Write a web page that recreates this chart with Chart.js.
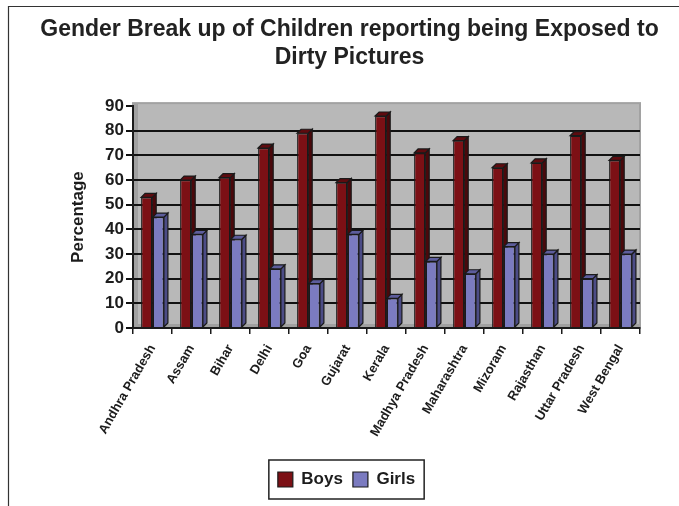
<!DOCTYPE html>
<html>
<head>
<meta charset="utf-8">
<script src="https://cdn.jsdelivr.net/npm/chart.js@4/dist/chart.umd.min.js"></script>
<style>
  body { margin: 0; background: #fff; }
  canvas { display: block; }
</style>
</head>
<body>
<canvas id="genderChart" width="679" height="506"></canvas>
<script>
const states = ['Andhra Pradesh', 'Assam', 'Bihar', 'Delhi', 'Goa', 'Gujarat', 'Kerala',
    'Madhya Pradesh', 'Maharashtra', 'Mizoram', 'Rajasthan', 'Uttar Pradesh', 'West Bengal'];
const boys = [53, 60, 61, 73, 79, 59, 86, 71, 76, 65, 67, 78, 68];
const girls = [45, 38, 36, 24, 18, 38, 12, 27, 22, 33, 30, 20, 30];
const yTicks = [0, 10, 20, 30, 40, 50, 60, 70, 80, 90];

const DEPTH = 4;
const sideColors = ['#4a080b', '#4c4c86'];
const topColors = ['#5e0b0f', '#5d5d9c'];

Chart.defaults.font.family = "'Liberation Sans', Arial, sans-serif";
Chart.defaults.font.weight = 'bold';
Chart.defaults.color = '#1c1c1c';

// gray walls behind the bars, plus the outer frame lines
const backdrop = {
    id: 'backdrop',
    afterLayout(chart) {
        // legend sits slightly left of the title's centre in the original
        chart.legend.left -= 3;
        chart.legend.right -= 3;
    },
    beforeDraw(chart) {
        const { ctx, chartArea: a } = chart;
        ctx.save();
        ctx.fillStyle = '#b8b8b8';
        ctx.fillRect(a.left, a.top - 3, a.right - a.left, a.bottom - a.top + 3);
        ctx.fillStyle = '#a0a0a0';
        ctx.fillRect(a.left, a.top - 3, 5, a.bottom - a.top + 3);
        ctx.fillRect(a.left, a.bottom - 4, a.right - a.left, 4);
        ctx.strokeStyle = '#a2a2a2';
        ctx.lineWidth = 2;
        ctx.strokeRect(a.left, a.top - 3, a.right - a.left, a.bottom - a.top + 3);
        ctx.strokeStyle = '#333';
        ctx.lineWidth = 1.2;
        ctx.beginPath();
        ctx.moveTo(8.5, 506);
        ctx.lineTo(8.5, 6.5);
        ctx.lineTo(679, 6.5);
        ctx.stroke();
        ctx.restore();
    }
};

// fake 3d: side and top faces drawn behind each bar's front face
const depthFaces = {
    id: 'depthFaces',
    beforeDatasetsDraw(chart) {
        const ctx = chart.ctx;
        ctx.save();
        ctx.strokeStyle = '#1a1a1a';
        ctx.lineWidth = 1.2;
        chart.data.datasets.forEach((ds, i) => {
            chart.getDatasetMeta(i).data.forEach(bar => {
                const l = bar.x - bar.width / 2, r = bar.x + bar.width / 2;
                const t = bar.y, b = bar.base;
                ctx.fillStyle = sideColors[i];
                ctx.beginPath();
                ctx.moveTo(r, t);
                ctx.lineTo(r + DEPTH, t - DEPTH);
                ctx.lineTo(r + DEPTH, b - DEPTH);
                ctx.lineTo(r, b);
                ctx.closePath();
                ctx.fill();
                ctx.stroke();
                ctx.fillStyle = topColors[i];
                ctx.beginPath();
                ctx.moveTo(l, t);
                ctx.lineTo(l + DEPTH, t - DEPTH);
                ctx.lineTo(r + DEPTH, t - DEPTH);
                ctx.lineTo(r, t);
                ctx.closePath();
                ctx.fill();
                ctx.stroke();
            });
        });
        ctx.restore();
    }
};

// box around the legend items
const legendBox = {
    id: 'legendBox',
    afterDraw(chart) {
        const boxes = chart.legend.legendHitBoxes;
        if (!boxes || !boxes.length) return;
        const left = Math.min(...boxes.map(b => b.left)) - 9;
        const right = Math.max(...boxes.map(b => b.left + b.width)) + 9;
        const top = Math.min(...boxes.map(b => b.top)) - 11;
        const bottom = Math.max(...boxes.map(b => b.top + b.height)) + 11;
        const ctx = chart.ctx;
        ctx.save();
        ctx.strokeStyle = '#222';
        ctx.lineWidth = 1.5;
        ctx.strokeRect(left, top, right - left, bottom - top);
        ctx.restore();
    }
};

const ctx = document.getElementById('genderChart').getContext('2d');

const genderChart = new Chart(ctx, {
    type: 'bar',
    data: {
        labels: states,
        datasets: [{
            label: 'Boys',
            data: boys,
            backgroundColor: '#7c1015',
            borderColor: '#1a1a1a',
            borderWidth: 1.2,
            categoryPercentage: 0.6,
            barPercentage: 0.95,
        }, {
            label: 'Girls',
            data: girls,
            backgroundColor: '#7b7bc0',
            borderColor: '#1a1a1a',
            borderWidth: 1.2,
            categoryPercentage: 0.6,
            barPercentage: 0.95,
        }],
    },
    options: {
        responsive: false,
        animation: false,
        devicePixelRatio: 1,
        layout: {
            padding: { left: 20, right: 0, bottom: 8 },
        },
        plugins: {
            title: {
                display: true,
                text: ['Gender Break up of Children reporting being Exposed to', 'Dirty Pictures'],
                font: { size: 23, weight: 'bold', lineHeight: 1.22 },
                color: '#222',
                padding: { top: 16, bottom: 34 },
            },
            legend: {
                position: 'bottom',
                labels: {
                    boxWidth: 15,
                    boxHeight: 15,
                    padding: 10,
                    color: '#1c1c1c',
                    font: { size: 17, weight: 'bold' },
                },
            },
            tooltip: { enabled: false },
        },
        scales: {
            x: {
                afterFit: s => { s.height = 133; },
                grid: {
                    drawOnChartArea: false,
                    color: '#1a1a1a',
                    lineWidth: 1.5,
                    tickLength: 6,
                },
                border: { color: '#1a1a1a', width: 2 },
                ticks: {
                    maxRotation: 60,
                    minRotation: 60,
                    padding: 8,
                    color: '#1c1c1c',
                    font: { size: 13, weight: 'bold' },
                },
            },
            y: {
                min: 0,
                max: 90,
                afterBuildTicks: s => { s.ticks = yTicks.map(v => ({ value: v })); },
                afterFit: s => { s.width = 113; },
                grid: {
                    color: c => (c.tick && c.tick.value === 90 ? 'rgba(0,0,0,0)' : '#111'),
                    tickColor: '#111',
                    lineWidth: 2,
                    tickLength: 7,
                },
                border: { color: '#1a1a1a', width: 2 },
                ticks: {
                    padding: 2,
                    color: '#1c1c1c',
                    font: { size: 17, weight: 'bold' },
                },
                title: {
                    display: true,
                    text: 'Percentage',
                    color: '#1c1c1c',
                    font: { size: 17, weight: 'bold' },
                    padding: { top: 48, bottom: 0 },
                },
            },
            // empty axis that only keeps a margin right of the plot
            spacer: {
                type: 'linear',
                position: 'right',
                afterFit: s => { s.width = 39; },
                grid: { display: false },
                border: { display: false },
                ticks: { display: false },
            },
        },
    },
    plugins: [backdrop, depthFaces, legendBox],
});
</script>
</body>
</html>
